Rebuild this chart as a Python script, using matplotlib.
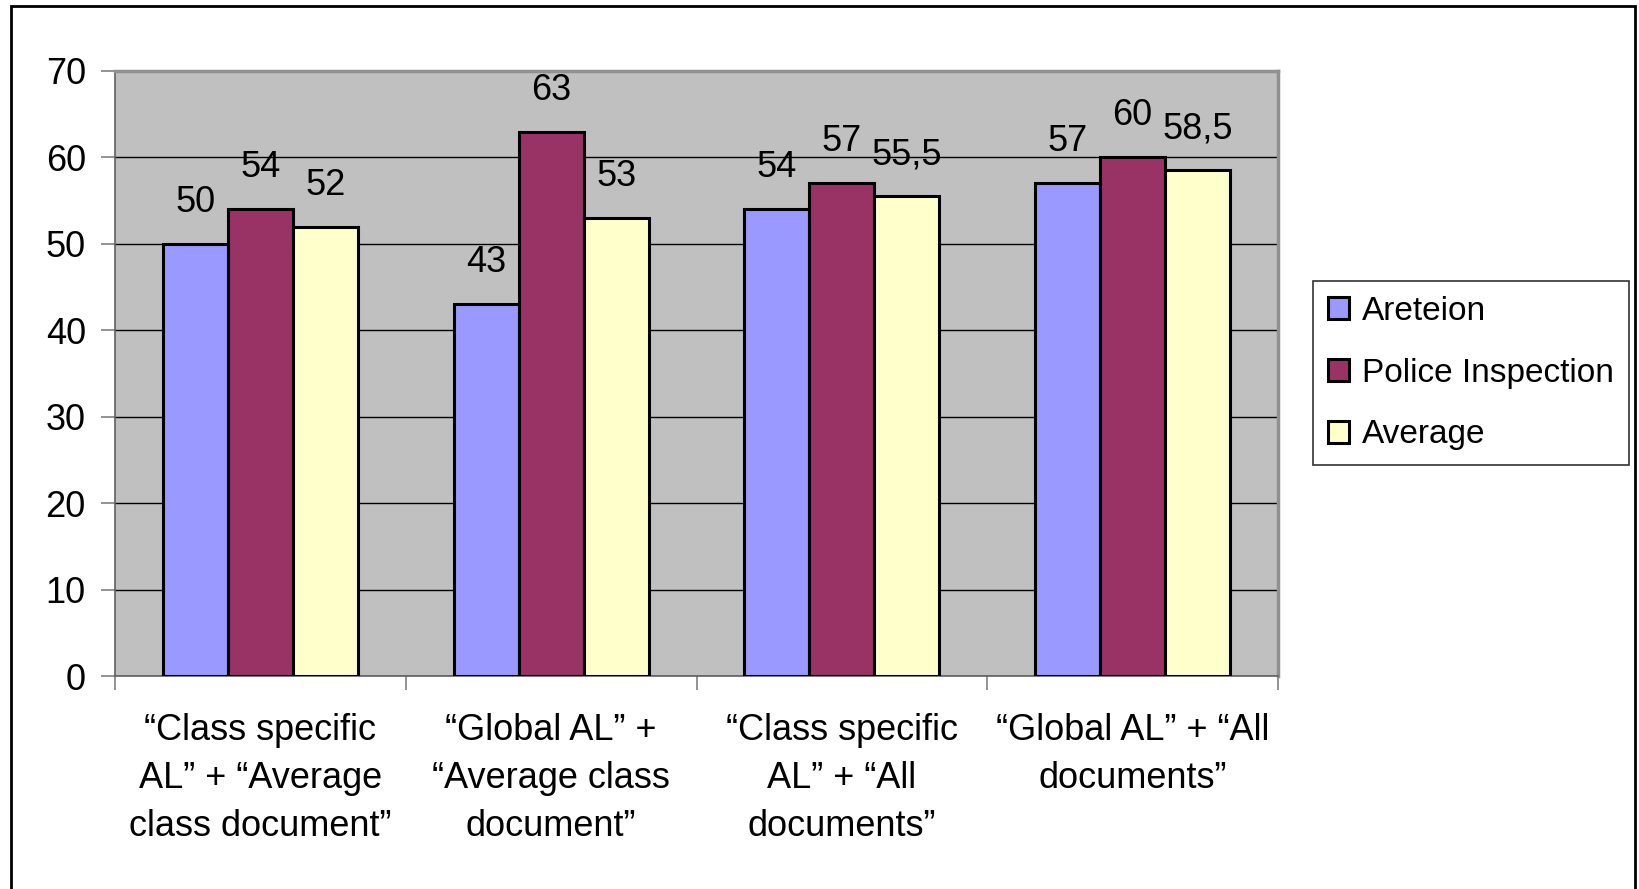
import matplotlib.pyplot as plt
import numpy as np
from matplotlib.patches import Rectangle

plt.rcParams['font.family'] = ['Liberation Sans', 'DejaVu Sans']

# Дані
categories = ['\u201cClass specific\nAL\u201d + \u201cAverage\nclass document\u201d',
              '\u201cGlobal AL\u201d +\n\u201cAverage class\ndocument\u201d',
              '\u201cClass specific\nAL\u201d + \u201cAll\ndocuments\u201d',
              '\u201cGlobal AL\u201d + \u201cAll\ndocuments\u201d']
series_names = ['Areteion', 'Police Inspection', 'Average']
areteion = [50, 43, 54, 57]
police = [54, 63, 57, 60]
average = [52, 53, 55.5, 58.5]
colors = ['#9999FF', '#993366', '#FFFFCC']

fig = plt.figure(figsize=(16.39, 8.89), dpi=100)
ax = fig.add_axes([115 / 1639, 1 - 676 / 889, (1278 - 115) / 1639, (676 - 71) / 889])

x = np.arange(len(categories))
w = 0.2236
for i, (vals, name) in enumerate(zip([areteion, police, average], series_names)):
    pos = x + (i - 1) * w
    ax.bar(pos, vals, w, color=colors[i], edgecolor='black', linewidth=2.2,
           label=name, zorder=3)
    for px, v in zip(pos, vals):
        txt = f'{v:g}'.replace('.', ',')
        ax.annotate(txt, (px, v), xytext=(0, 23), textcoords='offset points',
                    ha='center', va='baseline', fontsize=26)

ax.set_facecolor('#C0C0C0')
ax.set_xlim(-0.5, 3.5)
ax.set_ylim(0, 70)
ax.set_yticks(range(0, 71, 10))
ax.yaxis.grid(True, color='black', linewidth=1, zorder=1)
ax.tick_params(axis='y', labelsize=26, length=10, width=1.2, color='#808080', pad=11)

ax.set_xticks(x)
ax.set_xticklabels(categories, fontsize=26, linespacing=1.47)
ax.set_xticks(np.arange(-0.5, 4, 1), minor=True)
ax.tick_params(axis='x', which='major', length=0, pad=27)
ax.tick_params(axis='x', which='minor', length=10, width=1.2, color='#808080')

for s in ['top', 'right']:
    ax.spines[s].set_color('#909090')
    ax.spines[s].set_linewidth(2.5)
ax.spines['left'].set_color('#606060')
ax.spines['bottom'].set_color('#606060')
ax.spines['left'].set_linewidth(1.2)
ax.spines['bottom'].set_linewidth(1.2)

leg = ax.legend(loc='upper left', bbox_to_anchor=(1313 / 1639, 1 - 281 / 889),
                bbox_transform=fig.transFigure, fontsize=24, frameon=True,
                fancybox=False, edgecolor='black', handlelength=0.63,
                handleheight=0.63, handletextpad=0.4, labelspacing=0.92,
                borderpad=0.45, borderaxespad=0)
leg.get_frame().set_linewidth(1.2)

# Рамка навколо рисунка
fig.patches.append(Rectangle((11 / 1639, -0.05), (1635 - 11) / 1639, 1.05 - 6 / 889,
                             transform=fig.transFigure, fill=False,
                             edgecolor='black', linewidth=2))

fig.savefig('out.png', dpi=100)
